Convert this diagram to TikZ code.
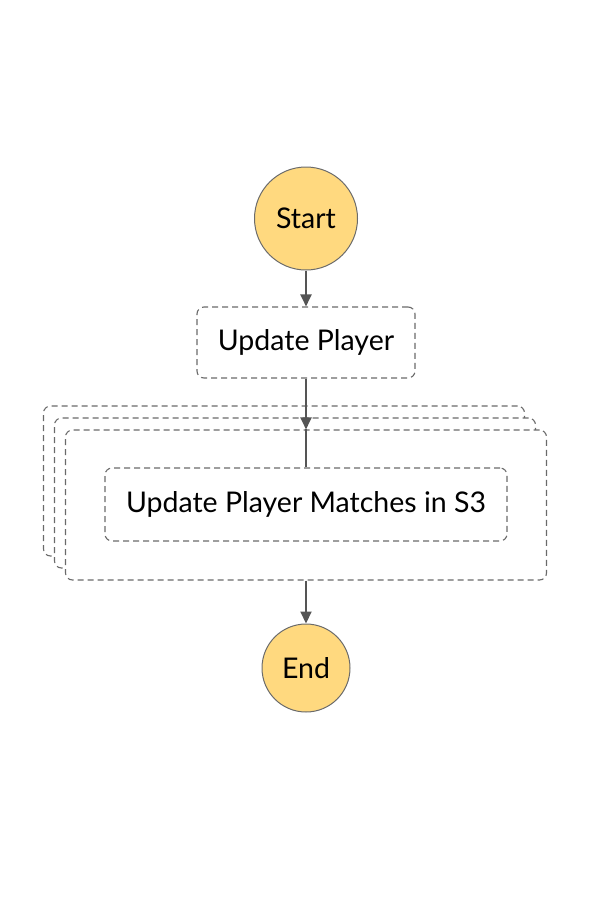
\documentclass[tikz,border=0pt]{standalone}
\usepackage{fontspec}
\setmainfont{Lato}
\usepackage{tikz}
\usetikzlibrary{arrows.meta,positioning}
\definecolor{termfill}{HTML}{FFD97F}
\definecolor{termdraw}{HTML}{6B6B6B}
\definecolor{edgegray}{HTML}{555555}
\definecolor{dashgray}{HTML}{6A6A6A}

\begin{document}
\begin{tikzpicture}[x=1pt,y=-1pt,
  term/.style={circle,draw=termdraw,fill=termfill,line width=1pt,
    inner sep=0pt,font=\fontsize{28.5}{34}\selectfont},
  task/.style={draw=dashgray,fill=white,rounded corners=7pt,line width=1.1pt,
    dash pattern=on 6pt off 4pt,inner sep=0pt,font=\fontsize{28.5}{34}\selectfont},
  stackbox/.style={task,minimum width=481pt,minimum height=150pt},
  arrow/.style={-{Triangle[length=12pt,width=11pt]},line width=2pt,edgegray},
  link/.style={line width=2pt,edgegray}
  ]

\useasboundingbox (0,0) rectangle (592,924);

% Start and first task
\node[term,minimum size=103pt] (start) at (306,218.5) {Start};
\node[task,minimum width=218pt,minimum height=71pt] (upd) at (306,342.5)
  {Update Player};

% Map state: stacked copies, back to front
\node[stackbox] (mapback)  at (284,481) {};
\node[stackbox] (mapmid)   at (295,493) {};
\node[stackbox] (mapfront) at (306,505) {};
\node[task,minimum width=402pt,minimum height=73pt] (matches) at (306,504.5)
  {Update Player Matches in S3};

% End
\node[term,minimum size=88pt] (end) at (306,668) {End};

% Connectors
\draw[arrow] (start.south) -- (upd.north);
\draw[arrow] (upd.south) -- (mapfront.north);
\draw[link]  (mapfront.north) -- (matches.north);
\draw[arrow] (mapfront.south) -- (end.north);

\end{tikzpicture}
\end{document}
